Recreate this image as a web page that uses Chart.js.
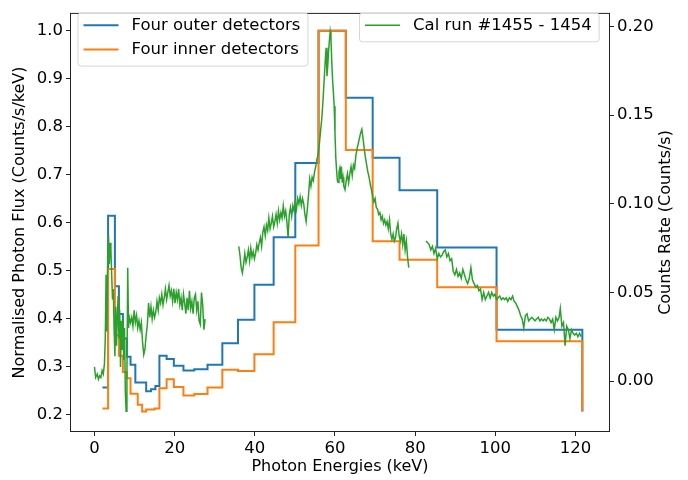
<!DOCTYPE html>
<html>
<head>
<meta charset="utf-8">
<script src="https://cdn.jsdelivr.net/npm/chart.js@4.4.0/dist/chart.umd.min.js"></script>
<style>
  html, body { margin: 0; padding: 0; background: #fff; }
  #wrap { width: 688px; height: 480px; position: relative; }
</style>
</head>
<body>
<div id="wrap"><canvas id="chart"></canvas></div>
<script>
// step histograms: bin start energies (keV) and normalised flux, last entry closes the histogram
const outerEdges = [2.0, 3.4, 5.1, 6.1, 7.1, 8.1, 9.0, 10.2, 12.9, 14.1, 15.2, 16.2, 18.0, 19.8, 22.2,
  24.9, 28.2, 31.9, 35.8, 39.9, 44.7, 50.1, 55.9, 62.7, 69.4, 76.1, 85.5, 100.3, 121.7];
const outerFlux = [0.256, 0.614, 0.467, 0.409, 0.358, 0.320, 0.303, 0.266, 0.248, 0.252, 0.259, 0.322, 0.315, 0.301, 0.291,
  0.294, 0.303, 0.348, 0.397, 0.470, 0.569, 0.724, 1.000, 0.860, 0.735, 0.667, 0.548, 0.376, 0.206];

const innerEdges = [2.0, 3.4, 5.1, 6.1, 7.1, 8.1, 9.0, 10.8, 11.9, 12.9, 15.0, 16.2, 18.0, 19.8, 22.2,
  24.9, 28.2, 31.9, 35.8, 39.9, 44.7, 50.1, 55.9, 62.7, 69.4, 76.1, 85.5, 100.3, 121.7];
const innerFlux = [0.212, 0.503, 0.365, 0.322, 0.288, 0.275, 0.243, 0.220, 0.206, 0.210, 0.212, 0.254, 0.273, 0.257, 0.239,
  0.242, 0.256, 0.293, 0.290, 0.325, 0.392, 0.552, 1.000, 0.751, 0.561, 0.522, 0.465, 0.352, 0.206];

// calibration run difference (counts/s), null = no data
const calEnergy = [
  0.0, 0.3, 0.7, 1.0, 1.3, 1.6, 1.9, 2.2, 2.5, 2.7, 2.9, 3.1, 3.3, 3.5, 3.7, 3.9, 4.1, 4.3, 4.5, 4.7,
  4.9, 5.1, 5.3, 5.5, 5.7, 5.9, 6.1, 6.3, 6.5, 6.7, 6.9, 7.1, 7.3, 7.5, 7.7, 7.9, 8.1, 8.3, 8.5, 8.7,
  9.0, 9.3, 9.6, 9.9, 10.2, 10.5, 10.8, 11.1, 11.4, 11.7, 12.0, 12.3, 12.6, 12.9, 13.2, 13.5, 13.8, 14.1, 14.4, 14.7,
  15.0, 15.3, 15.6, 15.9, 16.2, 16.5, 16.8, 17.1, 17.4, 17.7, 18.0, 18.3, 18.6, 18.9, 19.2, 19.5, 19.8, 20.1, 20.4, 20.7,
  21.0, 21.3, 21.6, 21.9, 22.2, 22.5, 22.8, 23.1, 23.4, 23.7, 24.0, 24.3, 24.6, 24.9, 25.2, 25.5, 25.8, 26.1, 26.4, 26.7,
  27.0, 27.3, 27.6,
  31.8,
  36.0, 36.3, 36.6, 36.9, 37.2, 37.5, 37.8, 38.1, 38.4, 38.7, 39.0, 39.3, 39.6, 39.9, 40.2, 40.5, 40.8, 41.1, 41.4, 41.7,
  42.0, 42.3, 42.6, 42.9, 43.2, 43.5, 43.8, 44.1, 44.4, 44.7, 45.0, 45.3, 45.6, 45.9, 46.2, 46.5, 46.8, 47.1, 47.4, 47.7,
  48.0, 48.3, 48.6, 48.9, 49.2, 49.5, 49.8, 50.1, 50.4, 50.7, 51.0, 51.3, 51.6, 51.9, 52.2, 52.5, 52.8, 53.1, 53.4, 53.7,
  54.0, 54.3, 54.6, 54.9, 55.2, 55.5, 55.8, 56.1, 56.4, 56.7, 57.0, 57.3, 57.6, 57.8, 58.0, 58.2, 58.4, 58.6, 58.8, 59.0,
  59.2, 59.4, 59.6, 59.8, 60.0, 60.2, 60.4, 60.6, 60.8, 61.0, 61.2, 61.4, 61.6, 61.8, 62.0, 62.2, 62.5, 62.8, 63.1, 63.4,
  63.7, 64.0, 64.3, 64.6, 64.9, 65.2, 65.5, 65.8, 66.1, 66.4, 66.7, 67.0, 67.3, 67.6, 67.9, 68.2, 68.5, 68.8, 69.1, 69.4,
  69.7, 70.0, 70.3, 70.6, 70.9, 71.2, 71.5, 71.8, 72.1, 72.4, 72.7, 73.0, 73.3, 73.6, 73.9, 74.2, 74.5, 74.8, 75.1, 75.4,
  75.7, 76.0, 76.3, 76.6, 76.9, 77.2, 77.5, 77.8, 78.1, 78.4,
  80.5,
  82.7, 83.1, 83.5, 83.9, 84.3, 84.7, 85.1, 85.5, 85.9, 86.3, 86.7, 87.1, 87.5, 87.9, 88.3, 88.7, 89.1, 89.5, 89.9, 90.3,
  90.7, 91.1, 91.5, 91.9, 92.3, 92.7, 93.1, 93.5, 93.9, 94.3, 94.7, 95.1, 95.5, 95.9, 96.3, 96.7, 97.1, 97.5, 97.9, 98.3,
  98.7, 99.1, 99.5, 99.9, 100.3, 100.7, 101.1, 101.5, 101.9, 102.3, 102.7, 103.1, 103.5, 103.9, 104.3, 104.7, 105.1, 105.5, 105.9, 106.3,
  106.7, 107.1, 107.5, 107.9, 108.3, 108.7, 109.1, 109.5, 109.9, 110.3, 110.7, 111.1, 111.5, 111.9, 112.3, 112.7, 113.1, 113.5, 113.9, 114.3,
  114.7, 115.1, 115.5, 115.9, 116.2, 116.6, 117.0, 117.4, 117.8, 118.2, 118.6, 119.0, 119.4, 119.8, 120.2, 120.6, 121.0, 121.4
];
const calRate = [
  0.008, 0.002, 0.004, 0.001, 0.003, 0.002, 0.006, 0.004, 0.010, 0.024, 0.060, 0.028, 0.070, 0.082, 0.066, 0.078, 0.074, 0.060, 0.046, 0.052,
  0.030, 0.014, 0.042, 0.020, 0.036, 0.048, 0.024, 0.040, 0.008, 0.034, 0.018, 0.036, 0.012, 0.030, -0.006, -0.017, 0.002, 0.064, 0.030, 0.036,
  0.033, 0.036, 0.031, 0.040, 0.033, 0.037, 0.030, 0.034, 0.029, 0.033, 0.022, 0.015, 0.018, 0.026, 0.032, 0.044, 0.036, 0.042, 0.035, 0.040,
  0.036, 0.039, 0.045, 0.040, 0.047, 0.044, 0.049, 0.043, 0.047, 0.052, 0.046, 0.050, 0.054, 0.048, 0.051, 0.045, 0.052, 0.044, 0.050, 0.046,
  0.052, 0.043, 0.047, 0.040, 0.049, 0.044, 0.038, 0.047, 0.040, 0.051, 0.041, 0.045, 0.038, 0.047, 0.049, 0.040, 0.045, 0.034, 0.032, 0.050,
  0.043, 0.029, 0.035,
  null,
  0.076, 0.071, 0.064, 0.061, 0.066, 0.072, 0.067, 0.070, 0.074, 0.068, 0.075, 0.070, 0.073, 0.069, 0.072, 0.077, 0.074, 0.078, 0.081, 0.076,
  0.084, 0.087, 0.082, 0.088, 0.085, 0.092, 0.086, 0.089, 0.093, 0.087, 0.090, 0.094, 0.089, 0.096, 0.091, 0.095, 0.092, 0.099, 0.093, 0.096,
  0.090, 0.081, 0.094, 0.098, 0.093, 0.099, 0.096, 0.101, 0.097, 0.103, 0.100, 0.104, 0.099, 0.103, 0.100, 0.094, 0.090, 0.097, 0.105, 0.114,
  0.110, 0.115, 0.113, 0.118, 0.121, 0.125, 0.128, 0.134, 0.141, 0.148, 0.158, 0.170, 0.182, 0.188, 0.172, 0.178, 0.186, 0.192, 0.197, 0.193,
  0.180, 0.170, 0.163, 0.155, 0.140, 0.126, 0.119, 0.113, 0.112, 0.118, 0.120, 0.114, 0.121, 0.112, 0.115, 0.110, 0.108, 0.113, 0.117, 0.112,
  0.117, 0.121, 0.116, 0.122, 0.120, 0.127, 0.131, 0.134, 0.137, 0.140, 0.142, 0.137, 0.131, 0.126, 0.122, 0.118, 0.115, 0.111, 0.108, 0.104,
  0.101, 0.103, 0.098, 0.097, 0.094, 0.095, 0.091, 0.093, 0.089, 0.091, 0.088, 0.090, 0.086, 0.091, 0.083, 0.080, 0.083, 0.079, 0.081, 0.086,
  0.089, 0.082, 0.079, 0.083, 0.077, 0.083, 0.074, 0.079, 0.070, 0.064,
  null,
  0.079, 0.078, 0.077, 0.074, 0.076, 0.072, 0.075, 0.069, 0.072, 0.070, 0.071, 0.073, 0.074, 0.070, 0.072, 0.068, 0.069, 0.062, 0.060, 0.063,
  0.059, 0.061, 0.058, 0.063, 0.060, 0.057, 0.055, 0.058, 0.064, 0.057, 0.055, 0.053, 0.054, 0.051, 0.052, 0.046, 0.050, 0.046, 0.048, 0.050,
  0.047, 0.050, 0.048, 0.049, 0.046, 0.047, 0.048, 0.046, 0.047, 0.046, 0.047, 0.045, 0.047, 0.046, 0.048, 0.045, 0.044, 0.042, 0.040, 0.037,
  0.035, 0.030, 0.037, 0.038, 0.034, 0.035, 0.036, 0.035, 0.034, 0.035, 0.036, 0.034, 0.035, 0.034, 0.035, 0.034, 0.036, 0.035, 0.033, 0.035,
  0.029, 0.036, 0.034, 0.036, 0.041, 0.031, 0.033, 0.020, 0.031, 0.029, 0.024, 0.029, 0.027, 0.026, 0.027, 0.025, 0.027, 0.025
];

const xTicks = [0, 20, 40, 60, 80, 100, 120];
const fluxTicks = [0.2, 0.3, 0.4, 0.5, 0.6, 0.7, 0.8, 0.9, 1.0];
const rateTicks = [0.00, 0.05, 0.10, 0.15, 0.20];

const FONT = 'DejaVu Sans';
const toPoints = (xs, ys) => xs.map((x, i) => ({ x: x, y: ys[i] }));
const fixedTicks = (list) => (scale) => { scale.ticks = list.map((v) => ({ value: v })); };

// two matplotlib-style legend boxes, the right axis title and the frame
const extras = {
  id: 'extras',
  afterDatasetsDraw(chart) {
    const { ctx, chartArea: a } = chart;
    const ds = chart.data.datasets;
    ctx.save();
    ctx.strokeStyle = '#222';
    ctx.lineWidth = 1;
    ctx.strokeRect(a.left + 0.5, a.top + 0.5, a.right - a.left - 1, a.bottom - a.top - 1);

    ctx.font = '16.5px ' + FONT;
    const drawLegend = (x, y, items) => {
      const rowH = 24.3;
      const w = 54 + Math.max(...items.map((d) => ctx.measureText(d.label).width)) + 7;
      const h = items.length * rowH + 4.5;
      ctx.beginPath();
      ctx.roundRect(x + 0.5, y + 0.5, w, h, 3);
      ctx.fillStyle = 'rgba(255,255,255,0.8)';
      ctx.fill();
      ctx.strokeStyle = '#d6d6d6';
      ctx.lineWidth = 1;
      ctx.stroke();
      items.forEach((d, i) => {
        const cy = y + 12.8 + i * rowH;
        ctx.beginPath();
        ctx.moveTo(x + 6, cy);
        ctx.lineTo(x + 41, cy);
        ctx.strokeStyle = d.borderColor;
        ctx.lineWidth = d.borderWidth;
        ctx.stroke();
        ctx.fillStyle = '#000';
        ctx.textBaseline = 'middle';
        ctx.textAlign = 'left';
        ctx.fillText(d.label, x + 54, cy);
      });
    };
    drawLegend(77.5, 12.5, [ds[0], ds[1]]);
    drawLegend(359, 12.5, [ds[2]]);

    ctx.font = '16px ' + FONT;
    ctx.translate(666, (a.top + a.bottom) / 2);
    ctx.rotate(-Math.PI / 2);
    ctx.fillStyle = '#000';
    ctx.textAlign = 'center';
    ctx.textBaseline = 'middle';
    ctx.fillText('Counts Rate (Counts/s)', 0, 0);
    ctx.restore();
  },
};

const tickStyle = { font: { family: FONT, size: 16.5 }, color: '#000', padding: 3 };
const gridStyle = { drawOnChartArea: false, drawTicks: true, tickLength: 4, tickColor: '#222', tickWidth: 1 };

new Chart('chart', {
  type: 'line',
  data: {
    datasets: [
      {
        label: 'Four outer detectors',
        data: toPoints(outerEdges, outerFlux),
        borderColor: '#1f77b4',
        borderWidth: 2,
        stepped: 'before',
        pointRadius: 0,
        fill: false,
        yAxisID: 'y',
        order: 2,
      },
      {
        label: 'Four inner detectors',
        data: toPoints(innerEdges, innerFlux),
        borderColor: '#ff7f0e',
        borderWidth: 2,
        stepped: 'before',
        pointRadius: 0,
        fill: false,
        yAxisID: 'y',
        order: 1,
      },
      {
        label: 'Cal run #1455 - 1454',
        data: toPoints(calEnergy, calRate),
        borderColor: '#2ca02c',
        borderWidth: 1.5,
        pointRadius: 0,
        tension: 0,
        spanGaps: false,
        fill: false,
        yAxisID: 'y2',
        order: 0,
      },
    ],
  },
  options: {
    responsive: true,
    maintainAspectRatio: false,
    animation: false,
    events: [],
    layout: { padding: { top: 4, left: 0, right: 0, bottom: 0 } },
    plugins: { legend: { display: false }, tooltip: { enabled: false } },
    scales: {
      x: {
        type: 'linear',
        position: 'bottom',
        min: -6.1,
        max: 128.6,
        afterBuildTicks: fixedTicks(xTicks),
        afterFit: (scale) => { scale.height = 48; },
        ticks: { ...tickStyle, maxRotation: 0 },
        grid: gridStyle,
        border: { display: false },
        title: {
          display: true,
          text: 'Photon Energies (keV)',
          font: { family: FONT, size: 16 },
          color: '#000',
          padding: { top: 0, bottom: 4 },
        },
      },
      y: {
        type: 'linear',
        position: 'left',
        min: 0.163,
        max: 1.037,
        afterBuildTicks: fixedTicks(fluxTicks),
        afterFit: (scale) => { scale.width = 70; },
        ticks: { ...tickStyle, callback: (v) => v.toFixed(1) },
        grid: gridStyle,
        border: { display: false },
        title: {
          display: true,
          text: 'Normalised Photon Flux (Counts/s/keV)',
          font: { family: FONT, size: 16 },
          color: '#000',
          padding: { top: 10, bottom: 0 },
        },
      },
      y2: {
        type: 'linear',
        position: 'right',
        min: -0.0287,
        max: 0.2077,
        afterBuildTicks: fixedTicks(rateTicks),
        afterFit: (scale) => { scale.width = 78; },
        ticks: { ...tickStyle, callback: (v) => v.toFixed(2) },
        grid: gridStyle,
        border: { display: false },
      },
    },
  },
  plugins: [extras],
});
</script>
</body>
</html>
